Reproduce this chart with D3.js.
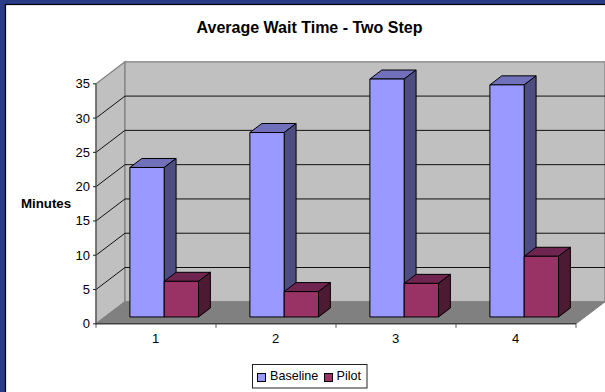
<!DOCTYPE html>
<html>
<head>
<meta charset="utf-8">
<style>
  html, body { margin: 0; padding: 0; background: #fff; }
  svg { display: block; }
  text { font-family: "Liberation Sans", Arial, sans-serif; fill: #000; }
</style>
<script src="https://cdn.jsdelivr.net/npm/d3@7/dist/d3.min.js"></script>
</head>
<body>
<script>
const categories = ["1", "2", "3", "4"];
const baseline = [21.8, 26.9, 34.7, 33.85];
const pilot = [5.2, 3.7, 4.9, 8.85];
const valueTicks = [0, 5, 10, 15, 20, 25, 30, 35];
const seriesNames = ["Baseline", "Pilot"];

const W = 605, H = 392;
const svg = d3.select("body").append("svg").attr("width", W).attr("height", H);

// Slide frame
svg.append("rect").attr("width", W).attr("height", H).attr("fill", "#2a3b88");
svg.append("rect").attr("x", 5.5).attr("y", 4.5).attr("width", W).attr("height", H)
  .attr("fill", "#fff").attr("stroke", "#000").attr("stroke-width", 1.2);

// Oblique projection: x/y on the front plane, z from 0 (front) to 1 (back wall)
const x = d3.scaleBand().domain(categories).range([96, 576]);
const y = d3.scaleLinear().domain([0, 35]).range([323.8, 83.8]);
const zx = d3.scaleLinear().domain([0, 1]).range([0, 29]);
const zy = d3.scaleLinear().domain([0, 1]).range([0, -22]);
const pt = (px, v, z) => [px + zx(z), y(v) + zy(z)];
const poly = pts => pts.map(p => p.join(",")).join(" ");

const x0 = x.range()[0], x1 = x.range()[1];
const topVal = y.domain()[1];
const plot = svg.append("g");

// Side wall
plot.append("polygon")
  .attr("points", poly([pt(x0, 0, 0), pt(x0, 0, 1), pt(x0, topVal, 1), pt(x0, topVal, 0)]))
  .attr("fill", "#c0c0c0").attr("stroke", "#808080").attr("stroke-width", 1.2);
// Back wall
plot.append("polygon")
  .attr("points", poly([pt(x0, 0, 1), pt(x1, 0, 1), pt(x1, topVal, 1), pt(x0, topVal, 1)]))
  .attr("fill", "#c0c0c0").attr("stroke", "#808080").attr("stroke-width", 1.2);
// Floor
plot.append("polygon")
  .attr("points", poly([pt(x0, 0, 0), pt(x1, 0, 0), pt(x1, 0, 1), pt(x0, 0, 1)]))
  .attr("fill", "#808080").attr("stroke", "#808080").attr("stroke-width", 1);

// Gridlines run along the side wall and across the back wall
const gridValues = valueTicks.filter(v => v > 0 && v < topVal);
plot.selectAll("polyline.grid").data(gridValues).join("polyline")
  .attr("class", "grid")
  .attr("points", v => poly([pt(x0, v, 0), pt(x0, v, 1), pt(x1, v, 1)]))
  .attr("fill", "none").attr("stroke", "#111").attr("stroke-width", 1);

// Value axis
plot.append("line")
  .attr("x1", x0).attr("x2", x0).attr("y1", y(0)).attr("y2", y(topVal))
  .attr("stroke", "#555").attr("stroke-width", 1.2);
plot.selectAll("line.ytick").data(valueTicks).join("line")
  .attr("class", "ytick")
  .attr("x1", x0 - 3).attr("x2", x0).attr("y1", d => y(d)).attr("y2", d => y(d))
  .attr("stroke", "#222");
plot.selectAll("text.ylab").data(valueTicks).join("text")
  .attr("class", "ylab")
  .attr("x", x0 - 6).attr("y", d => y(d) + 4.5)
  .attr("text-anchor", "end").attr("font-size", 13).text(d => d);

// Category axis
plot.append("line")
  .attr("x1", x0).attr("x2", x1).attr("y1", y(0)).attr("y2", y(0))
  .attr("stroke", "#222").attr("stroke-width", 1);
const tickEdges = categories.map(c => x(c)).concat([x1]);
plot.selectAll("line.xtick").data(tickEdges).join("line")
  .attr("class", "xtick")
  .attr("x1", d => d).attr("x2", d => d).attr("y1", y(0)).attr("y2", y(0) + 4)
  .attr("stroke", "#555");
plot.selectAll("text.xlab").data(categories).join("text")
  .attr("class", "xlab")
  .attr("x", c => x(c) + x.bandwidth() / 2 - 0.5).attr("y", 343)
  .attr("text-anchor", "middle").attr("font-size", 13).text(c => c);

// Bars: each one is a front face, a lit top and a shaded side
const barW = 34.3, zFront = 0.31, zBack = 0.72;
const palette = {
  Baseline: { front: "#9999ff", top: "#7070bb", side: "#4d4d80" },
  Pilot: { front: "#993366", top: "#702550", side: "#4d1a33" }
};
function drawBar(g, left, v, colors) {
  const right = left + barW;
  g.append("polygon")
    .attr("points", poly([pt(left, v, zFront), pt(left, v, zBack), pt(right, v, zBack), pt(right, v, zFront)]))
    .attr("fill", colors.top);
  g.append("polygon")
    .attr("points", poly([pt(right, 0, zFront), pt(right, 0, zBack), pt(right, v, zBack), pt(right, v, zFront)]))
    .attr("fill", colors.side);
  g.append("polygon")
    .attr("points", poly([pt(left, 0, zFront), pt(right, 0, zFront), pt(right, v, zFront), pt(left, v, zFront)]))
    .attr("fill", colors.front);
  g.selectAll("polygon").attr("stroke", "#000").attr("stroke-width", 1).attr("stroke-linejoin", "round");
}
categories.forEach((c, i) => {
  const mid = x(c) + x.bandwidth() / 2;
  drawBar(plot.append("g"), mid - barW - 0.8, baseline[i], palette.Baseline);
  drawBar(plot.append("g"), mid - 0.8, pilot[i], palette.Pilot);
});

// Titles
svg.append("text").attr("x", 309.5).attr("y", 33)
  .attr("text-anchor", "middle").attr("font-size", 16).attr("font-weight", "bold")
  .text("Average Wait Time - Two Step");
svg.append("text").attr("x", 46).attr("y", 207.5)
  .attr("text-anchor", "middle").attr("font-size", 13.3).attr("font-weight", "bold")
  .text("Minutes");

// Legend
const legend = svg.append("g");
legend.append("rect").attr("x", 252.5).attr("y", 364.5).attr("width", 114.5).attr("height", 23.5)
  .attr("fill", "#fff").attr("stroke", "#222");
const legendPos = [{ box: 257, label: 270 }, { box: 324, label: 336.5 }];
seriesNames.forEach((name, i) => {
  legend.append("rect").attr("x", legendPos[i].box + 0.5).attr("y", 373.5).attr("width", 8).attr("height", 8)
    .attr("fill", palette[name].front).attr("stroke", "#000");
  legend.append("text").attr("x", legendPos[i].label).attr("y", 380)
    .attr("font-size", 12.6).text(name);
});
</script>
</body>
</html>
